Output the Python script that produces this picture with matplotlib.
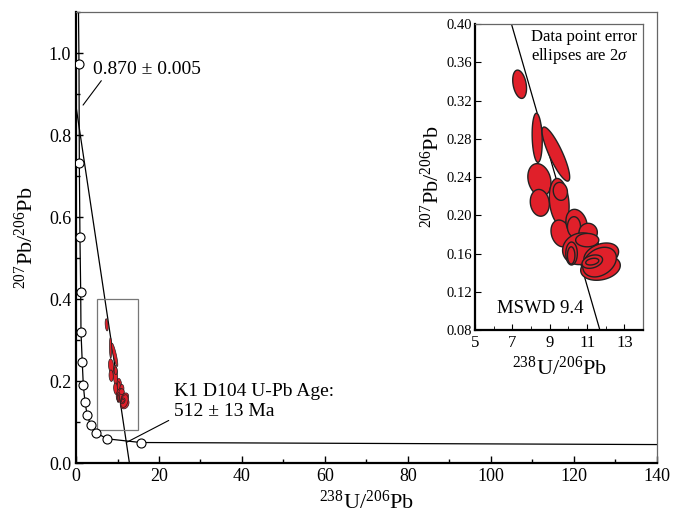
import numpy as np
import matplotlib
matplotlib.use("Agg")
import matplotlib.pyplot as plt
from matplotlib.patches import Rectangle, Polygon
from matplotlib.ticker import MultipleLocator, FormatStrFormatter

plt.rcParams['font.family'] = ['Liberation Serif', 'DejaVu Serif']
plt.rcParams['mathtext.fontset'] = 'custom'
plt.rcParams['mathtext.rm'] = 'Liberation Serif'
plt.rcParams['mathtext.it'] = 'Liberation Serif:italic'

# concordia trace and age markers on it
conc_x = [0.6, 0.72, 0.8, 0.95, 1.13, 1.2, 1.5, 1.76, 2.17, 2.7, 3.5, 4.8, 7.5, 15.6, 140]
conc_y = [1.1, 0.972, 0.731, 0.551, 0.418, 0.32, 0.247, 0.19, 0.148, 0.117, 0.093, 0.074, 0.059, 0.050, 0.045]
mark_x = [0.72, 0.8, 0.95, 1.13, 1.2, 1.5, 1.76, 2.17, 2.7, 3.5, 4.8, 7.5, 15.6]
mark_y = [0.972, 0.731, 0.551, 0.418, 0.32, 0.247, 0.19, 0.148, 0.117, 0.093, 0.074, 0.059, 0.050]

# discordia: upper intercept on y axis, lower end on x axis
disc_x = [0.0, 12.87]
disc_y = [0.870, 0.0]

# data ellipses (2 sigma): centre, half-width (x), half-height (y), correlation
ell_x = [7.39, 8.33, 9.33, 8.45, 8.47, 9.51, 9.57, 9.60, 10.44, 10.30, 11.06, 10.66, 10.17, 10.15,
         11.72, 11.76, 11.67, 11.01, 11.28, 11.28]
ell_y = [0.337, 0.281, 0.264, 0.237, 0.213, 0.214, 0.225, 0.181, 0.191, 0.188, 0.182, 0.165, 0.160, 0.158,
         0.145, 0.158, 0.151, 0.174, 0.1515, 0.1515]
ell_sx = [0.37, 0.27, 0.74, 0.62, 0.51, 0.53, 0.38, 0.53, 0.57, 0.35, 0.49, 0.97, 0.31, 0.20,
          1.06, 0.93, 0.90, 0.62, 0.55, 0.35]
ell_sy = [0.0148, 0.0257, 0.0283, 0.017, 0.014, 0.0245, 0.0094, 0.014, 0.0152, 0.0105, 0.0096, 0.0166, 0.012, 0.009,
          0.013, 0.013, 0.0155, 0.007, 0.007, 0.0035]
ell_r = [-0.3, -0.15, -0.85, -0.2, -0.1, -0.2, -0.1, -0.2, -0.2, 0.0, 0.0, 0.1, 0.0, 0.0,
         0.2, 0.3, 0.3, 0.0, 0.3, 0.3]

red = '#e0202a'


def draw_ellipses(ax, lw):
    t = np.linspace(0, 2 * np.pi, 120)
    for cx, cy, sx, sy, r in zip(ell_x, ell_y, ell_sx, ell_sy, ell_r):
        px = cx + sx * np.cos(t)
        py = cy + sy * (r * np.cos(t) + np.sqrt(1 - r * r) * np.sin(t))
        ax.add_patch(Polygon(np.column_stack([px, py]), closed=True,
                             facecolor=red, edgecolor='#222222', lw=lw, zorder=3))


def style_spines(ax):
    for s in ['left', 'bottom']:
        ax.spines[s].set_linewidth(1.6)
        ax.spines[s].set_color('black')
    for s in ['top', 'right']:
        ax.spines[s].set_linewidth(0.9)
        ax.spines[s].set_color('#666666')


fig = plt.figure(figsize=(6.75, 5.22), dpi=100)

# main plot
ax = fig.add_axes([0.1126, 0.113, 0.8607, 0.864])
ax.plot(conc_x, conc_y, color='black', lw=0.9, zorder=2)
ax.plot(mark_x, mark_y, 'o', mfc='white', mec='black', mew=0.8, ms=6.5, zorder=4)
ax.plot(disc_x, disc_y, color='black', lw=0.9, zorder=2)
draw_ellipses(ax, 0.5)
ax.add_patch(Rectangle((5, 0.08), 10, 0.32, fill=False, edgecolor='#777777', lw=0.9, zorder=2))

ax.set_xlim(0, 140)
ax.set_ylim(0, 1.1)
ax.xaxis.set_major_locator(MultipleLocator(20))
ax.xaxis.set_minor_locator(MultipleLocator(10))
ax.yaxis.set_major_locator(MultipleLocator(0.2))
ax.yaxis.set_minor_locator(MultipleLocator(0.1))
ax.yaxis.set_major_formatter(FormatStrFormatter('%.1f'))
ax.tick_params(which='both', direction='in', top=False, right=False, labelsize=13)
ax.tick_params(which='major', length=5, width=1)
ax.tick_params(which='minor', length=3, width=1)
style_spines(ax)
ax.set_xlabel(r'$^{238}$U/$^{206}$Pb', fontsize=16, labelpad=4)
ax.set_ylabel(r'$^{207}$Pb/$^{206}$Pb', fontsize=16, labelpad=8)

ax.annotate('0.870 ± 0.005', xy=(1.7, 0.873), xytext=(4.0, 0.96),
            fontsize=14, va='center', ha='left',
            arrowprops=dict(arrowstyle='-', color='black', lw=0.8, shrinkA=0, shrinkB=0,
                            relpos=(0.1, 0.0)))
ax.annotate('K1 D104 U-Pb Age:\n512 ± 13 Ma', xy=(12.3, 0.051), xytext=(23.5, 0.15),
            fontsize=14, va='center', ha='left', linespacing=1.3,
            arrowprops=dict(arrowstyle='-', color='black', lw=0.8, shrinkA=0, shrinkB=0,
                            relpos=(-0.03, 0.0)))

# inset
ins = fig.add_axes([0.7037, 0.3678, 0.249, 0.5862])
ins.plot(disc_x, disc_y, color='black', lw=0.9, zorder=2)
draw_ellipses(ins, 1.0)
ins.set_xlim(5, 14)
ins.set_ylim(0.08, 0.40)
ins.set_xticks([5, 7, 9, 11, 13])
ins.xaxis.set_minor_locator(MultipleLocator(1))
ins.yaxis.set_major_locator(MultipleLocator(0.04))
ins.yaxis.set_major_formatter(FormatStrFormatter('%.2f'))
ins.tick_params(which='both', direction='in', top=False, right=False)
ins.tick_params(axis='y', labelsize=10.5, length=4, pad=2)
ins.tick_params(axis='x', labelsize=12, length=4)
ins.tick_params(which='minor', length=3)
style_spines(ins)
ins.set_xlabel(r'$^{238}$U/$^{206}$Pb', fontsize=16, labelpad=4)
ins.set_ylabel(r'$^{207}$Pb/$^{206}$Pb', fontsize=16, labelpad=2)
ins.text(0.333, 0.985, 'Data point error\nellipses are 2$\\it{\\sigma}$', transform=ins.transAxes,
         ha='left', va='top', fontsize=12, linespacing=1.1)
ins.text(6.2, 0.102, 'MSWD 9.4', fontsize=13.5, va='center', ha='left')

fig.savefig('out.png', dpi=100)
